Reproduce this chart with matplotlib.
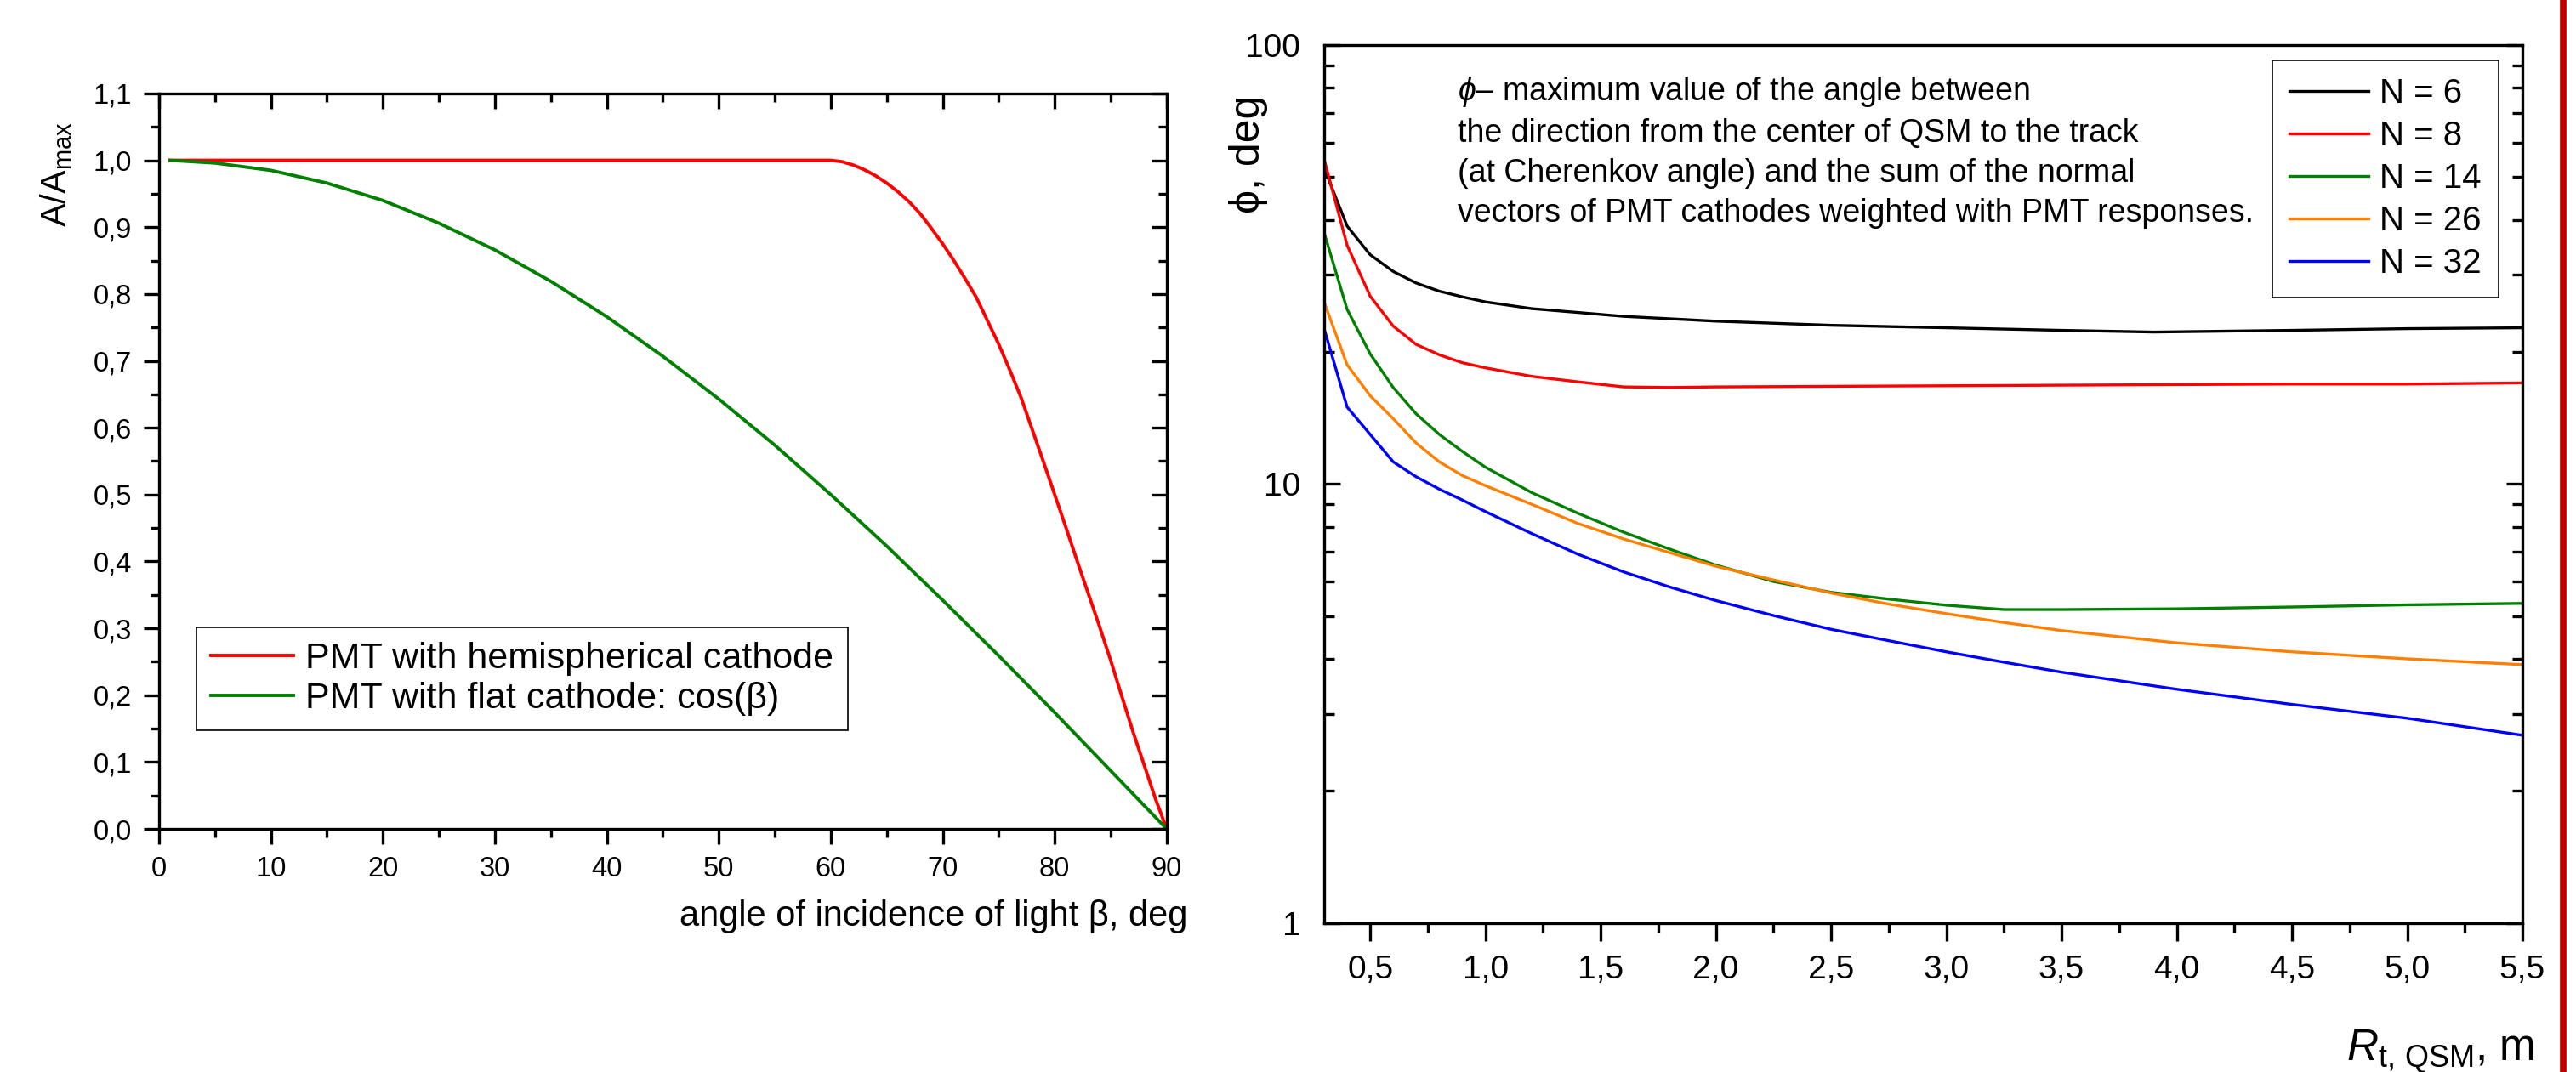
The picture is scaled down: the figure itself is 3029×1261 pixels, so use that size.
import matplotlib
matplotlib.use("Agg")
import matplotlib.pyplot as plt
from matplotlib.ticker import MultipleLocator, FixedLocator, LogLocator, NullFormatter, FuncFormatter
from matplotlib.lines import Line2D

plt.rcParams['font.family'] = ['Liberation Sans', 'DejaVu Sans']
plt.rcParams['mathtext.fontset'] = 'custom'
plt.rcParams['mathtext.rm'] = 'Liberation Sans'
plt.rcParams['mathtext.it'] = 'Liberation Sans:italic'
plt.rcParams['mathtext.fallback'] = 'stixsans'

# ---- left panel: relative amplitude vs angle of incidence
beta_flat = [1, 5, 10, 15, 20, 25, 30, 35, 40, 45, 50, 55, 60, 65, 70, 75, 80, 85, 90]
amp_flat = [1.0, 0.996, 0.985, 0.966, 0.940, 0.906, 0.866, 0.819, 0.766, 0.707,
            0.643, 0.574, 0.500, 0.423, 0.342, 0.259, 0.174, 0.087, 0.0]

beta_hemi = [1, 60, 61, 62, 63, 64, 65, 66, 67, 68, 69, 70, 71, 72, 73, 74, 75, 76, 77,
             78, 79, 80, 81, 82, 83, 84, 85, 86, 87, 88, 89, 90]
amp_hemi = [1.0, 1.0, 0.998, 0.993, 0.986, 0.977, 0.966, 0.953, 0.938, 0.920, 0.898,
            0.875, 0.850, 0.823, 0.795, 0.760, 0.725, 0.686, 0.645, 0.597, 0.549,
            0.500, 0.451, 0.401, 0.352, 0.303, 0.252, 0.198, 0.145, 0.095, 0.045, 0.0]

legend_left = ["PMT with hemispherical cathode", "PMT with flat cathode: cos(\u03b2)"]

# ---- right panel: phi vs distance, for different numbers of PMTs
r_n6 = [0.3, 0.4, 0.5, 0.6, 0.7, 0.8, 0.9, 1.0, 1.2, 1.4, 1.6, 1.8, 2.0, 2.5, 3.0, 3.5, 3.9, 4.5, 5.0, 5.5]
phi_n6 = [52.5, 38.7, 33.3, 30.5, 28.7, 27.5, 26.7, 26.0, 25.1, 24.6, 24.1, 23.8, 23.5,
          23.0, 22.7, 22.4, 22.2, 22.4, 22.6, 22.7]

r_n8 = [0.3, 0.4, 0.5, 0.6, 0.7, 0.8, 0.9, 1.0, 1.2, 1.4, 1.6, 1.8, 2.0, 2.5, 3.0, 3.5, 4.0, 4.5, 5.0, 5.5]
phi_n8 = [55.0, 35.0, 26.8, 22.9, 20.8, 19.7, 18.9, 18.4, 17.6, 17.1, 16.65, 16.6, 16.65,
          16.7, 16.75, 16.8, 16.85, 16.9, 16.9, 17.0]

r_many = [0.3, 0.4, 0.5, 0.6, 0.7, 0.8, 0.9, 1.0, 1.2, 1.4, 1.6, 1.8, 2.0, 2.25, 2.5,
          2.75, 3.0, 3.25, 3.5, 4.0, 4.5, 5.0, 5.5]
phi_n14 = [37.4, 25.0, 19.8, 16.6, 14.45, 12.98, 11.87, 10.93, 9.57, 8.59, 7.77, 7.11,
           6.54, 6.00, 5.67, 5.47, 5.30, 5.18, 5.18, 5.20, 5.25, 5.31, 5.35]
phi_n26 = [26.0, 18.7, 15.9, 14.1, 12.4, 11.24, 10.46, 9.92, 9.0, 8.14, 7.50, 6.98,
           6.50, 6.05, 5.65, 5.33, 5.07, 4.84, 4.64, 4.35, 4.15, 4.00, 3.88]
phi_n32 = [22.6, 14.98, 12.98, 11.24, 10.39, 9.74, 9.20, 8.66, 7.72, 6.93, 6.31, 5.83,
           5.43, 5.02, 4.67, 4.40, 4.15, 3.93, 3.73, 3.41, 3.15, 2.93, 2.68]

legend_right = ["N = 6", "N = 8", "N = 14", "N = 26", "N = 32"]

annotation = ("$\\phi$\u2013 maximum value of the angle between\n"
              "the direction from the center of QSM to the track\n"
              "(at Cherenkov angle) and the sum of the normal\n"
              "vectors of PMT cathodes weighted with PMT responses.")


def comma_fmt(v, pos):
    return f"{v:.1f}".replace(".", ",")


fig = plt.figure(figsize=(30.29, 12.61), dpi=100)

# left panel
ax1 = fig.add_axes([0.0617, 0.2268, 0.3912, 0.6860])
ax1.plot(beta_hemi, amp_hemi, color="#ff0000", lw=2.8, label=legend_left[0])
ax1.plot(beta_flat, amp_flat, color="#008000", lw=2.8, label=legend_left[1])
ax1.set_xlim(0, 90)
ax1.set_ylim(0, 1.1)
ax1.xaxis.set_major_locator(MultipleLocator(10))
ax1.xaxis.set_minor_locator(MultipleLocator(5))
ax1.yaxis.set_major_locator(MultipleLocator(0.1))
ax1.yaxis.set_minor_locator(MultipleLocator(0.05))
ax1.yaxis.set_major_formatter(FuncFormatter(comma_fmt))
ax1.tick_params(which="both", direction="out", top=True, right=True, width=2.4,
                labelsize=23.5, pad=10)
ax1.tick_params(which="major", length=13)
ax1.tick_params(which="minor", length=7)
for s in ax1.spines.values():
    s.set_linewidth(2.4)
# mirrored ticks point inward (Origin style)
for t in ax1.xaxis.get_major_ticks() + ax1.xaxis.get_minor_ticks():
    t.tick2line.set_marker(3)
for t in ax1.yaxis.get_major_ticks() + ax1.yaxis.get_minor_ticks():
    t.tick2line.set_marker(0)

ax1.set_ylabel("A/A$_{\\rm max}$", fontsize=30)
ax1.yaxis.set_label_coords(-0.084, 0.89)
ax1.set_xlabel("angle of incidence of light \u03b2, deg", fontsize=30, ha="right")
ax1.xaxis.set_label_coords(1.021, -0.096)

leg1 = ax1.legend(loc="lower left", bbox_to_anchor=(0.037, 0.134), borderaxespad=0,
                  fontsize=31, fancybox=False, edgecolor="black", framealpha=1,
                  handlelength=2.25, handletextpad=0.33, labelspacing=0.15,
                  borderpad=0.4)
leg1.get_frame().set_linewidth(1.2)

# right panel
ax2 = fig.add_axes([0.5140, 0.1388, 0.4652, 0.8192])
ax2.plot(r_n6, phi_n6, color="black", lw=2.4, label=legend_right[0])
ax2.plot(r_n8, phi_n8, color="#ff0000", lw=2.4, label=legend_right[1])
ax2.plot(r_many, phi_n14, color="#008000", lw=2.4, label=legend_right[2])
ax2.plot(r_many, phi_n26, color="#ff8000", lw=2.4, label=legend_right[3])
ax2.plot(r_many, phi_n32, color="#0000ff", lw=2.4, label=legend_right[4])
ax2.set_yscale("log")
ax2.set_xlim(0.3, 5.5)
ax2.set_ylim(1, 100)
ax2.xaxis.set_major_locator(FixedLocator([0.5 * k for k in range(1, 12)]))
ax2.xaxis.set_minor_locator(FixedLocator([0.25 + 0.5 * k for k in range(1, 11)]))
ax2.xaxis.set_major_formatter(FuncFormatter(comma_fmt))
ax2.yaxis.set_major_locator(FixedLocator([1, 10, 100]))
ax2.yaxis.set_minor_locator(LogLocator(base=10, subs=range(2, 10)))
ax2.yaxis.set_major_formatter(FuncFormatter(lambda v, p: f"{v:g}"))
ax2.yaxis.set_minor_formatter(NullFormatter())
ax2.tick_params(axis="x", which="both", direction="out", width=2.4, labelsize=28, pad=12)
ax2.tick_params(axis="x", which="major", length=15)
ax2.tick_params(axis="x", which="minor", length=8)
ax2.tick_params(axis="y", which="both", direction="in", right=True, width=2.4,
                labelsize=28, pad=20)
ax2.tick_params(axis="y", which="major", length=14)
ax2.tick_params(axis="y", which="minor", length=8.6)
for s in ax2.spines.values():
    s.set_linewidth(2.4)

ax2.set_ylabel("\u03d5, deg", fontsize=36)
ax2.yaxis.set_label_coords(-0.047, 0.876)
ax2.set_xlabel("$R_{\\rm t,\\,QSM}$, m", fontsize=37, ha="right", va="baseline")
ax2.xaxis.set_label_coords(1.010, -0.156)

ax2.text(0.1114, 0.966, annotation, transform=ax2.transAxes, fontsize=27,
         ha="left", va="top", linespacing=1.39)

leg2 = ax2.legend(loc="upper right", bbox_to_anchor=(0.980, 0.9826), borderaxespad=0,
                  fontsize=29, fancybox=False, edgecolor="black", framealpha=1,
                  handlelength=2.3, handletextpad=0.33, labelspacing=0.3,
                  borderpad=0.5)
leg2.get_frame().set_linewidth(1.2)

# dark red rule at the right edge of the figure
fig.add_artist(Line2D([0.995, 0.995], [0, 1], transform=fig.transFigure,
                      color="#c00000", lw=5.5))

fig.savefig("out.png", dpi=100)
